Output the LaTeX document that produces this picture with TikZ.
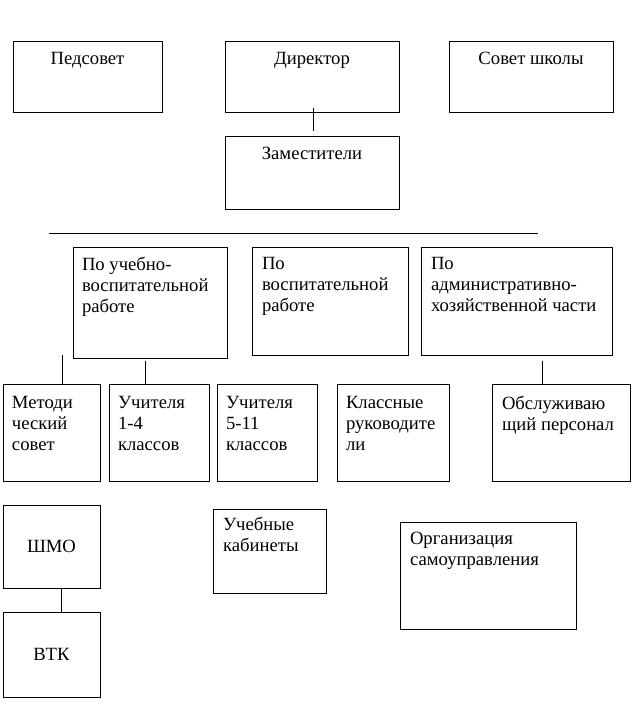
\documentclass[tikz,border=0pt]{standalone}
\usepackage{fontspec}
\setmainfont{Liberation Serif}
\usetikzlibrary{fit}
\begin{document}
\begin{tikzpicture}[x=0.75pt,y=-0.75pt,line width=0.75pt,
    box/.style={draw,inner sep=0pt,fit={#1}},
    lbl/.style={inner sep=0pt,anchor=north,font=\fontsize{14}{15.75}\selectfont},
    lbll/.style={lbl,anchor=north west,align=left}]
  \useasboundingbox (0,0) rectangle (631,709);
  % administration
  \node[box={(13,42) (162,113)}] (ped) {};
  \node[box={(225,42) (399,113)}] (dir) {};
  \node[box={(449,42) (613,113)}] (sov) {};
  \node[box={(225,137) (399,209)}] (zam) {};
  \node[lbl] (pedt) at ([shift={(0,10)}]ped.north) {Педсовет};
  \node[lbl] (dirt) at ([shift={(0,10)}]dir.north) {Директор};
  \node[lbl] (sovt) at ([shift={(0,10)}]sov.north) {Совет школы};
  \node[lbl] (zamt) at ([shift={(0,10)}]zam.north) {Заместители};
  \draw ([shift={(1,-5)}]dir.south) -- ([shift={(1,-5)}]zam.north);
  \draw (49,233) -- (538,233);
  % deputies
  \node[box={(73,247) (227,358)}] (uvr) {};
  \node[box={(252,247) (408,355)}] (vr) {};
  \node[box={(421,247) (612,355)}] (ahch) {};
  \node[lbll] (uvrt) at ([shift={(9,10)}]uvr.north west) {По учебно-\\воспитательной\\работе};
  \node[lbll] (vrt) at ([shift={(10,10)}]vr.north west) {По\\воспитательной\\работе};
  \node[lbll] (ahcht) at ([shift={(10,10)}]ahch.north west) {По\\административно-\\хозяйственной части};
  % staff
  \node[box={(3,384) (100,481)}] (met) {};
  \node[box={(109,384) (209,481)}] (u14) {};
  \node[box={(217,384) (317,481)}] (u511) {};
  \node[box={(337,384) (449,481)}] (kl) {};
  \node[box={(492,384) (630,481)}] (obs) {};
  \node[lbll] (mett) at ([shift={(9,12)}]met.north west) {Методи\\ческий\\совет};
  \node[lbll] (u14t) at ([shift={(9,12)}]u14.north west) {Учителя\\1-4\\классов};
  \node[lbll] (u511t) at ([shift={(9,12)}]u511.north west) {Учителя\\5-11\\классов};
  \node[lbll] (klt) at ([shift={(9,12)}]kl.north west) {Классные\\руководите\\ли};
  \node[lbll] (obst) at ([shift={(10,12)}]obs.north west) {Обслуживаю\\щий персонал};
  \coordinate (metup) at (62,355);
  \draw (metup) -- (metup |- met.north);
  \coordinate (uvrs) at ([shift={(-5,2)}]uvr.south);
  \draw (uvrs) -- (uvrs |- u14.north);
  \coordinate (ahchs) at ([shift={(25.5,5)}]ahch.south);
  \draw (ahchs) -- (ahchs |- obs.north);
  % lower row
  \node[box={(3,505) (100,588)}] (shmo) {};
  \node[box={(3,612) (100,697)}] (vtk) {};
  \node[lbl,anchor=center] (shmot) at (shmo) {ШМО};
  \node[lbl,anchor=center] (vtkt) at (vtk) {ВТК};
  \coordinate (shmos) at ([shift={(9.5,0)}]shmo.south);
  \draw (shmos) -- (shmos |- vtk.north);
  \node[box={(213,509) (326,593)}] (kab) {};
  \node[box={(400,522) (576,629)}] (org) {};
  \node[lbll] (kabt) at ([shift={(10,8)}]kab.north west) {Учебные\\кабинеты};
  \node[lbll] (orgt) at ([shift={(10,10)}]org.north west) {Организация\\самоуправления};
\end{tikzpicture}
\end{document}
